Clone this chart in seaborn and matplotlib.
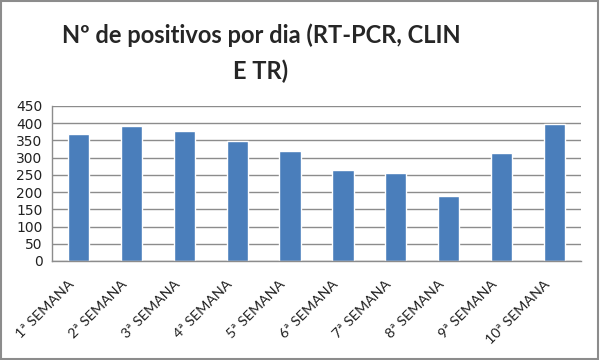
import numpy as np
import pandas as pd
import matplotlib
matplotlib.use("Agg")
import matplotlib.pyplot as plt
import matplotlib.transforms as mtransforms
import seaborn as sns
from matplotlib.patches import Rectangle
from matplotlib.ticker import FixedLocator

# Datos
semanas = ["1ª SEMANA", "2ª SEMANA", "3ª SEMANA", "4ª SEMANA", "5ª SEMANA",
           "6ª SEMANA", "7ª SEMANA", "8ª SEMANA", "9ª SEMANA", "10ª SEMANA"]
positivos = [369, 391, 377, 347, 319, 265, 255, 189, 312, 398]
y_ticks = [0, 50, 100, 150, 200, 250, 300, 350, 400, 450]

df = pd.DataFrame({"semana": semanas, "positivos": positivos})

sns.set_style("white")
plt.rcParams["font.family"] = ["DejaVu Sans"]

fig = plt.figure(figsize=(6, 3.6), dpi=100)
ax = fig.add_axes([0.087, 0.275, 0.881, 0.431])

sns.barplot(data=df, x="semana", y="positivos", color="#4A7EBB", width=0.4,
            saturation=1, ax=ax)

ax.set_ylim(0, 450)
ax.set_xlim(-0.5, len(semanas) - 0.5)
ax.set_yticks(y_ticks)
ax.set_yticklabels([str(v) for v in y_ticks], fontsize=10, color="#222222")
ax.yaxis.grid(True, color="#8c8c8c", linewidth=1)
ax.set_axisbelow(True)
ax.set_xlabel("")
ax.set_ylabel("")

ax.set_xticks(range(len(semanas)))
ax.set_xticklabels(semanas, rotation=45, ha="right", rotation_mode="anchor",
                   fontsize=10.3, family=["Lato", "DejaVu Sans"], color="#222222")
ax.tick_params(axis="x", which="major", length=0, pad=8)
# desplazar las etiquetas un poco a la izquierda y abajo
offset = mtransforms.ScaledTranslation(-0.11, -0.06, fig.dpi_scale_trans)
for lbl in ax.get_xticklabels():
    lbl.set_transform(lbl.get_transform() + offset)
ax.xaxis.set_minor_locator(FixedLocator(np.arange(-0.5, len(semanas), 1)))
ax.tick_params(axis="x", which="minor", length=5, color="#8c8c8c", direction="out")
ax.tick_params(axis="y", length=5, color="#8c8c8c", direction="out", pad=2)

for side in ["top", "right"]:
    ax.spines[side].set_visible(False)
for side in ["left", "bottom"]:
    ax.spines[side].set_color("#8c8c8c")
    ax.spines[side].set_linewidth(1)

fig.text(0.435, 0.852, "Nº de positivos por dia (RT-PCR, CLIN\nE TR)", ha="center",
         va="center", fontsize=17, fontweight="bold", family=["Lato", "DejaVu Sans"],
         linespacing=1.6)

fig.patches.append(Rectangle((0.002, 0.003), 0.995, 0.994, transform=fig.transFigure,
                             fill=False, edgecolor="#8c8c8c", linewidth=1.5))

fig.savefig("out.png", dpi=100)
